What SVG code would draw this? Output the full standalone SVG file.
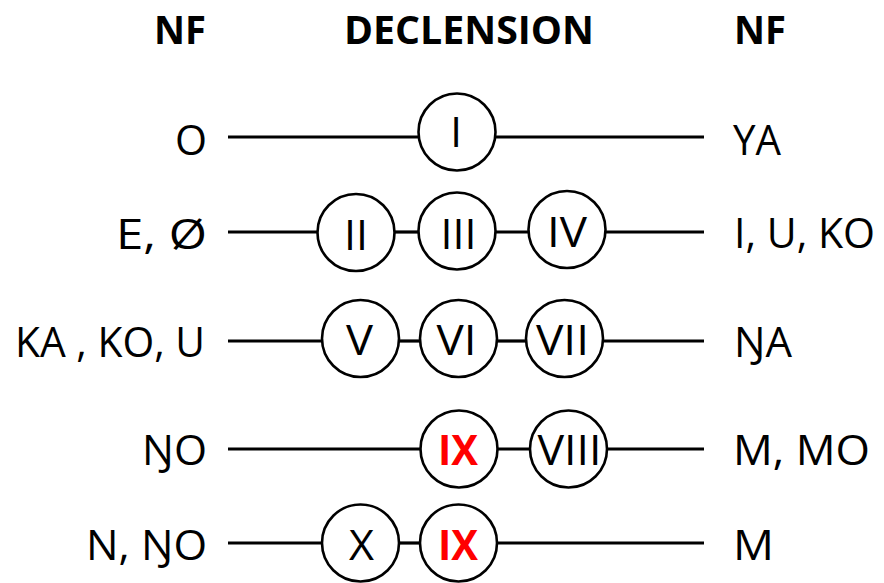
<svg xmlns="http://www.w3.org/2000/svg" width="884" height="583" viewBox="0 0 884 583">
<style>
  text { font-family: "Open Sans", "Liberation Sans", sans-serif; font-size: 42px; fill: #000; }
  .hdr { font-weight: bold; text-anchor: middle; font-size: 40px; }
  .lft { text-anchor: end; }
  .rgt { text-anchor: start; }
  .num { text-anchor: middle; }
  .red { fill: #FF0000; font-weight: bold; }
  .node circle { fill: #fff; stroke: #000; stroke-width: 2.6; }
  #connectors line { stroke: #000; stroke-width: 3.2; }
</style>
<rect width="884" height="583" fill="#fff"/>

<g id="headers">
  <text class="hdr" x="180" y="44" textLength="52" lengthAdjust="spacingAndGlyphs">NF</text>
  <text class="hdr" x="469" y="44" textLength="250" lengthAdjust="spacingAndGlyphs">DECLENSION</text>
  <text class="hdr" x="760" y="44" textLength="52" lengthAdjust="spacingAndGlyphs">NF</text>
</g>

<g id="labels">
  <text class="lft" x="207" y="155" textLength="32" lengthAdjust="spacingAndGlyphs">O</text>
  <text class="rgt" x="733" y="155" textLength="48" lengthAdjust="spacingAndGlyphs">YA</text>
  <text class="lft" x="207" y="249" textLength="91" lengthAdjust="spacingAndGlyphs">E, Ø</text>
  <text class="rgt" x="734" y="248" textLength="141" lengthAdjust="spacingAndGlyphs">I, U, KO</text>
  <text class="lft" x="205" y="357" textLength="190" lengthAdjust="spacingAndGlyphs">KA , KO, U</text>
  <text class="rgt" x="734" y="357" textLength="58" lengthAdjust="spacingAndGlyphs">ŊA</text>
  <text class="lft" x="207" y="465" textLength="65" lengthAdjust="spacingAndGlyphs">ŊO</text>
  <text class="rgt" x="733" y="465" textLength="137" lengthAdjust="spacingAndGlyphs">M, MO</text>
  <text class="lft" x="207" y="560" textLength="121" lengthAdjust="spacingAndGlyphs">N, ŊO</text>
  <text class="rgt" x="733" y="560" textLength="41" lengthAdjust="spacingAndGlyphs">M</text>
</g>

<g id="connectors">
  <line x1="228" y1="137" x2="418.5" y2="137"/>
  <line x1="495.5" y1="137" x2="704" y2="137"/>

  <line x1="228" y1="232" x2="317.5" y2="232"/>
  <line x1="394.5" y1="232" x2="418.5" y2="232"/>
  <line x1="495.5" y1="232" x2="528.5" y2="232"/>
  <line x1="605.5" y1="232" x2="704" y2="232"/>

  <line x1="228" y1="341" x2="322" y2="341"/>
  <line x1="399" y1="341" x2="420" y2="341"/>
  <line x1="497" y1="341" x2="526" y2="341"/>
  <line x1="603" y1="341" x2="704" y2="341"/>

  <line x1="228" y1="449" x2="420.5" y2="449"/>
  <line x1="497.5" y1="449" x2="530" y2="449"/>
  <line x1="607" y1="449" x2="704" y2="449"/>

  <line x1="228" y1="543" x2="322" y2="543"/>
  <line x1="399" y1="543" x2="420" y2="543"/>
  <line x1="497" y1="543" x2="704" y2="543"/>
</g>

<g id="node-I" class="node"><circle cx="457" cy="132" r="38.5"/><text class="num" x="456" y="147">I</text></g>

<g id="node-II" class="node"><circle cx="356" cy="232.5" r="38.5"/><text class="num" x="356" y="250" textLength="24" lengthAdjust="spacingAndGlyphs">II</text></g>
<g id="node-III" class="node"><circle cx="457" cy="231" r="38.5"/><text class="num" x="458.5" y="249" textLength="36" lengthAdjust="spacingAndGlyphs">III</text></g>
<g id="node-IV" class="node"><circle cx="567" cy="229.5" r="38.5"/><text class="num" x="567" y="247" textLength="40" lengthAdjust="spacingAndGlyphs">IV</text></g>

<g id="node-V" class="node"><circle cx="360.5" cy="338.5" r="38.5"/><text class="num" x="359.5" y="355" textLength="27" lengthAdjust="spacingAndGlyphs">V</text></g>
<g id="node-VI" class="node"><circle cx="458.5" cy="338.5" r="38.5"/><text class="num" x="456.5" y="355" textLength="40" lengthAdjust="spacingAndGlyphs">VI</text></g>
<g id="node-VII" class="node"><circle cx="564.5" cy="338.5" r="38.5"/><text class="num" x="562.5" y="355" textLength="53" lengthAdjust="spacingAndGlyphs">VII</text></g>

<g id="node-IX-a" class="node"><circle cx="459" cy="449" r="38.5"/><text class="num red" x="458" y="465" textLength="40" lengthAdjust="spacingAndGlyphs">IX</text></g>
<g id="node-VIII" class="node"><circle cx="568.5" cy="449" r="38.5"/><text class="num" x="569.5" y="465" textLength="64" lengthAdjust="spacingAndGlyphs">VIII</text></g>

<g id="node-X" class="node"><circle cx="360.5" cy="543" r="38.5"/><text class="num" x="361.5" y="560" textLength="25" lengthAdjust="spacingAndGlyphs">X</text></g>
<g id="node-IX-b" class="node"><circle cx="458.5" cy="543" r="38.5"/><text class="num red" x="458" y="560" textLength="40" lengthAdjust="spacingAndGlyphs">IX</text></g>
</svg>
